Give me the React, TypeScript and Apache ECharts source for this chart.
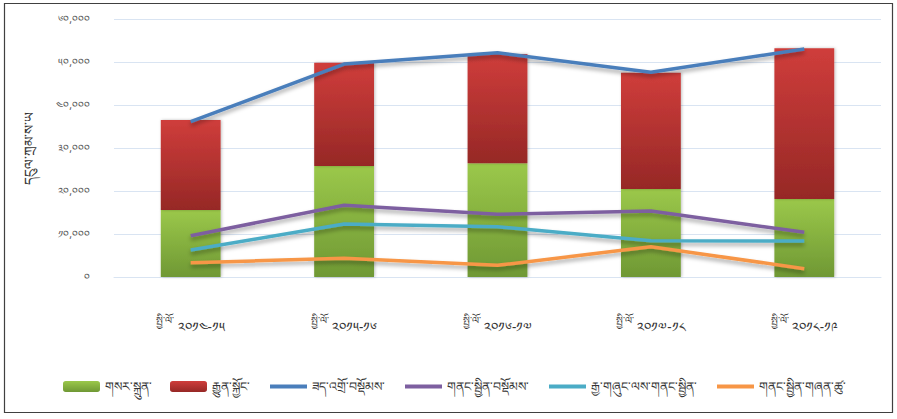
import React, { useEffect, useRef } from "react";
import * as echarts from "echarts";

const categories = ["༢༠༡༤-༡༥", "༢༠༡༥-༡༦", "༢༠༡༦-༡༧", "༢༠༡༧-༡༨", "༢༠༡༨-༡༩"];
const categoryPrefix = "སྤྱི་ལོ་";
const seriesNames = [
  "གསར་སྐྲུན་",
  "རྒྱུན་སྐྱོང་",
  "ཟད་འགྲོ་བསྡོམས་",
  "གནང་སྦྱིན་བསྡོམས་",
  "རྒྱ་གཞུང་ལས་གནང་སྦྱིན་",
  "གནང་སྦྱིན་གཞན་ཚུ་",
];
const capital = [15580, 25810, 26440, 20470, 18140];
const recurrent = [20930, 23990, 25420, 27040, 35040];
const totalExpenditure = [36120, 49530, 52160, 47600, 53020];
const totalGrants = [9600, 16670, 14580, 15350, 10390];
const goiGrants = [6280, 12330, 11700, 8440, 8370];
const otherGrants = [3330, 4340, 2710, 7050, 1940];
const yTickLabels = ["༠", "༡༠,༠༠༠", "༢༠,༠༠༠", "༣༠,༠༠༠", "༤༠,༠༠༠", "༥༠,༠༠༠", "༦༠,༠༠༠"];
const yAxisTitle = "དངུལ་ཀྲམ་ས་ཡ";

const FONT = "'Noto Sans', 'DejaVu Sans', sans-serif";

export default function App() {
  const ref = useRef<HTMLDivElement>(null);
  useEffect(() => {
    if (!ref.current) return;
    const chart = echarts.init(ref.current, null, { renderer: "svg" });
    const grad = (top: string, bottom: string) =>
      new echarts.graphic.LinearGradient(0, 0, 0, 1, [
        { offset: 0, color: top },
        { offset: 1, color: bottom },
      ]);
    const lineSeries = (name: string, data: number[], color: string) => ({
      name,
      type: "line",
      data,
      symbol: "none",
      itemStyle: { color },
      lineStyle: {
        color,
        width: 3.5,
        shadowColor: "rgba(0,0,0,0.35)",
        shadowBlur: 4,
        shadowOffsetY: 3,
      },
      z: 3,
    });
    chart.setOption({
      animation: false,
      backgroundColor: "#fff",
      textStyle: { fontFamily: FONT },
      graphic: [
        {
          type: "rect",
          shape: { x: 4.5, y: 3.5, width: 888, height: 409 },
          style: { fill: "none", stroke: "#404040", lineWidth: 1.2 },
          silent: true,
        },
      ],
      grid: { left: 114, right: 16, top: 19, bottom: 142 },
      legend: {
        left: 58,
        top: 375,
        itemWidth: 37,
        itemHeight: 11,
        itemGap: 18,
        textStyle: { fontSize: 12.5, color: "#333", fontFamily: FONT },
        data: seriesNames.map((n, i) =>
          i < 2
            ? { name: n }
            : { name: n, itemStyle: { opacity: 0 }, lineStyle: { width: 4, shadowBlur: 0, shadowOffsetY: 0 } }
        ),
      },
      xAxis: {
        type: "category",
        data: categories,
        axisLine: { show: true, lineStyle: { color: "#d9e4f2" } },
        axisTick: { show: false },
        axisLabel: {
          margin: 38,
          interval: 0,
          formatter: (v: string) => `{a|${categoryPrefix}} {b|${v}}`,
          rich: {
            a: { fontSize: 10, color: "#333", padding: [0, 0, 14, 0], fontFamily: FONT },
            b: { fontSize: 13.5, color: "#333", fontFamily: FONT },
          },
        },
      },
      yAxis: {
        type: "value",
        min: 0,
        max: 60000,
        interval: 10000,
        name: yAxisTitle,
        nameLocation: "middle",
        nameGap: 78,
        nameRotate: 90,
        nameTextStyle: { fontSize: 13.5, color: "#333", fontFamily: FONT },
        axisLine: { show: false },
        axisTick: { show: false },
        axisLabel: {
          margin: 24,
          fontSize: 10.5,
          color: "#595959",
          formatter: (v: number) => yTickLabels[Math.round(v / 10000)],
        },
        splitLine: { lineStyle: { color: "#d9e4f2", width: 1 } },
      },
      series: [
        {
          name: seriesNames[0],
          type: "bar",
          stack: "exp",
          data: capital,
          barWidth: "39%",
          itemStyle: {
            color: grad("#9bc84a", "#6f9834"),
            shadowColor: "rgba(0,0,0,0.25)",
            shadowBlur: 3,
            shadowOffsetX: 1,
          },
        },
        {
          name: seriesNames[1],
          type: "bar",
          stack: "exp",
          data: recurrent,
          barWidth: "39%",
          itemStyle: {
            color: grad("#cf3d3b", "#962826"),
            shadowColor: "rgba(0,0,0,0.25)",
            shadowBlur: 3,
            shadowOffsetX: 1,
          },
        },
        lineSeries(seriesNames[2], totalExpenditure, "#4a7ebb"),
        lineSeries(seriesNames[3], totalGrants, "#7d5fa0"),
        lineSeries(seriesNames[4], goiGrants, "#4bacc6"),
        lineSeries(seriesNames[5], otherGrants, "#f79646"),
      ],
    });
    return () => chart.dispose();
  }, []);
  return (
    <div
      ref={ref}
      style={{ position: "fixed", left: 0, top: 0, width: 897, height: 419 }}
    />
  );
}
